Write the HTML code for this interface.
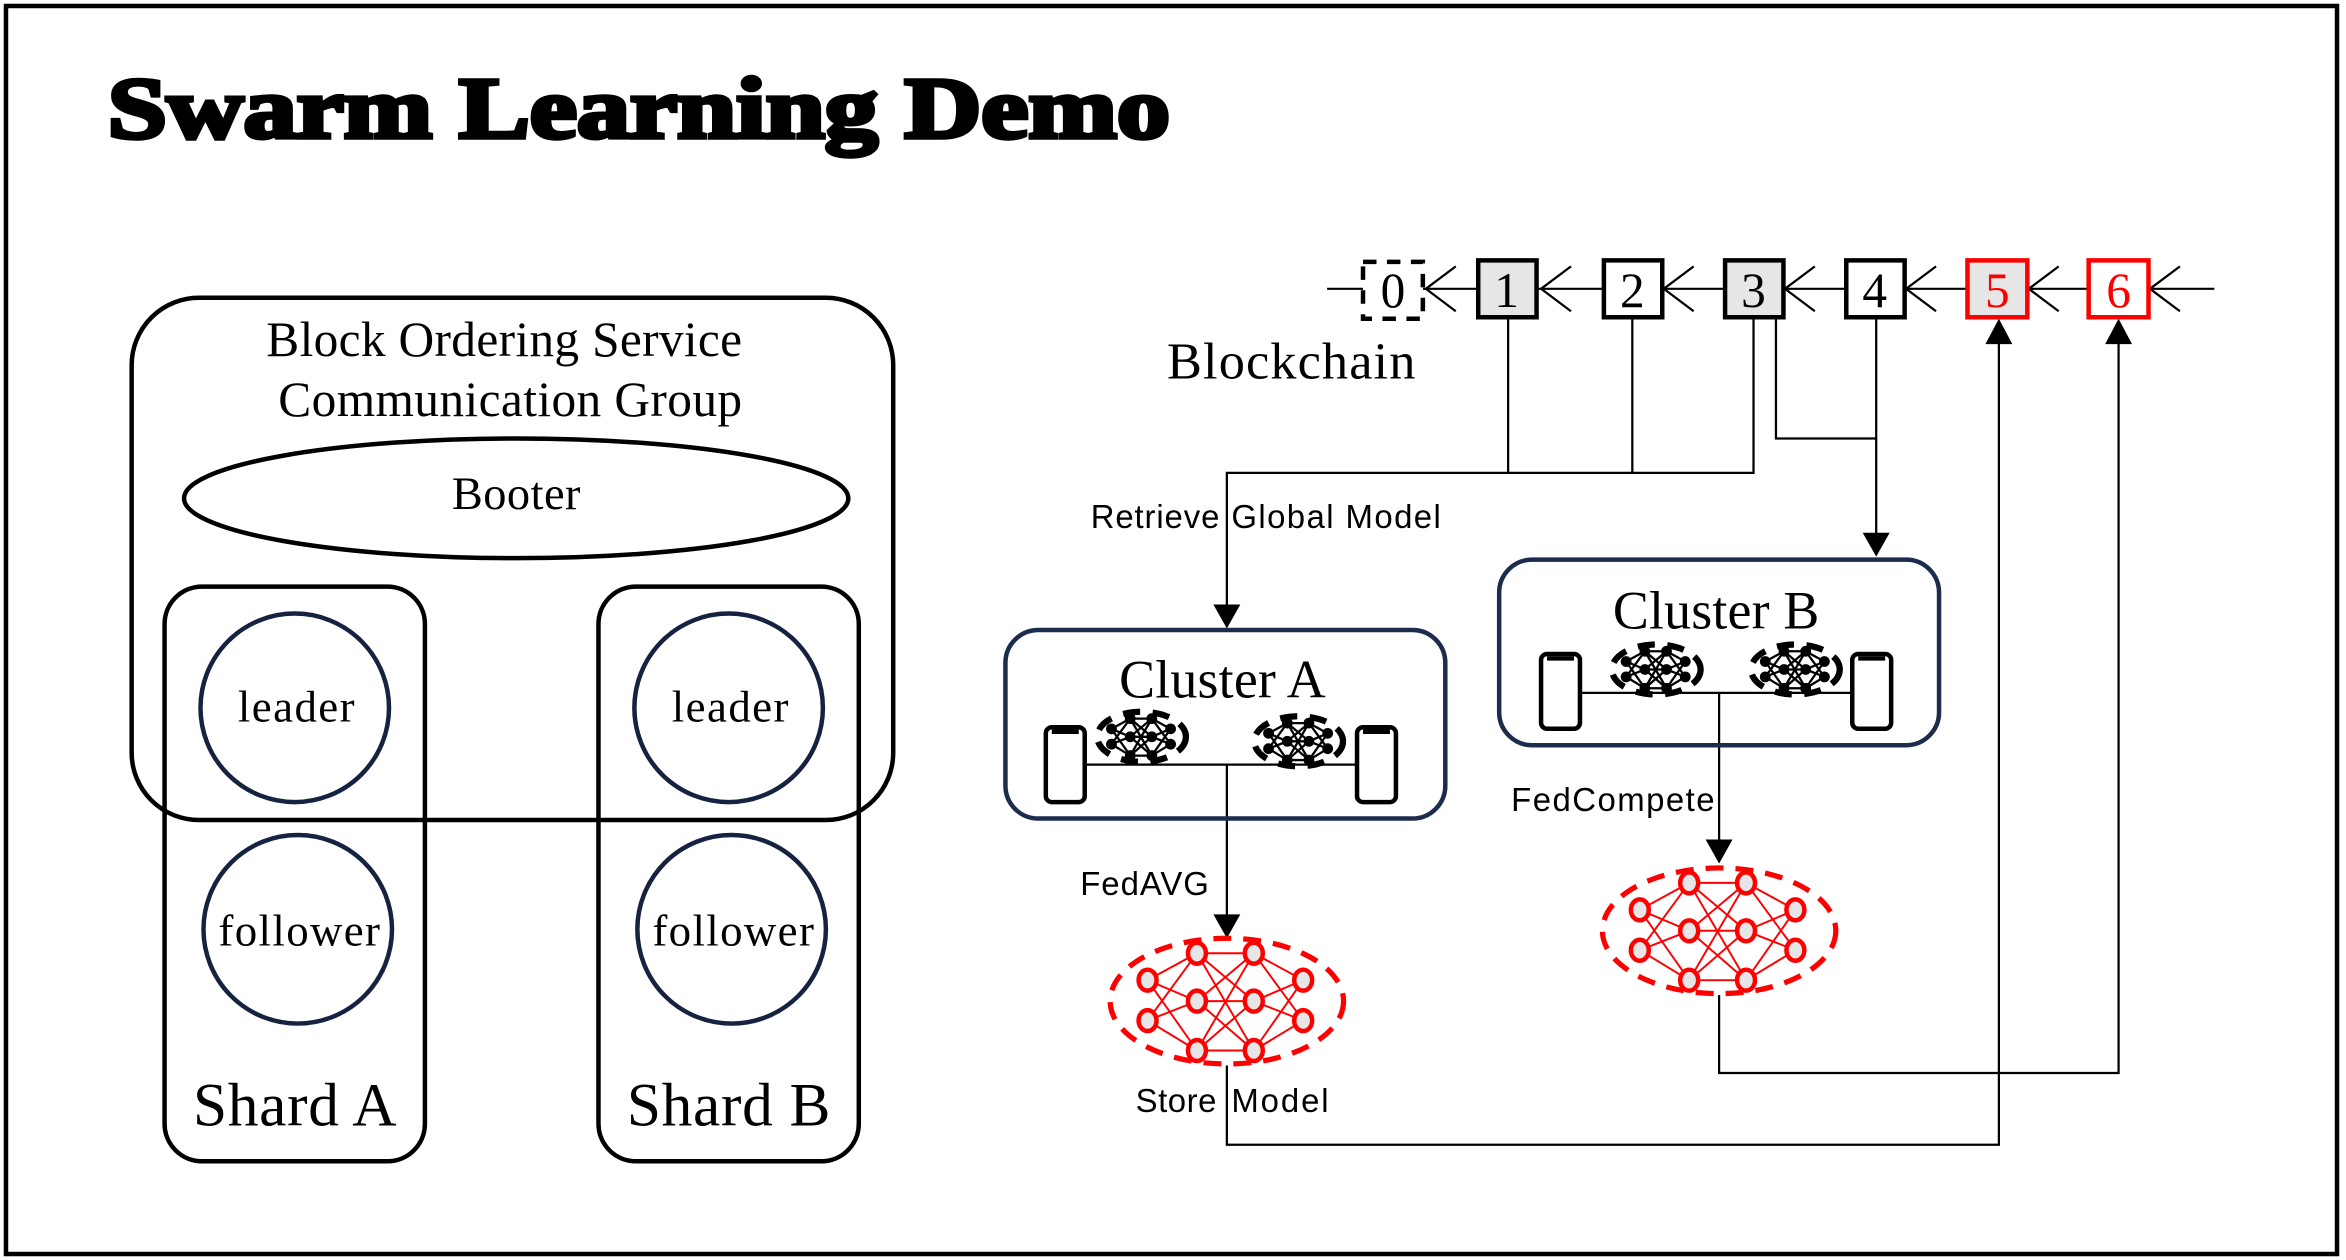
<!DOCTYPE html>
<html><head><meta charset="utf-8"><style>
html,body{margin:0;padding:0;background:#fff;}
svg{display:block;}
</style></head><body>
<svg width="2346" height="1260" viewBox="0 0 1568 842" preserveAspectRatio="none" xmlns="http://www.w3.org/2000/svg">
<defs>
<g id="net">
  <g stroke-width="1.3">
    <path d="M-53,-13L-20,-31M-53,-13L-20,1M-53,-13L-20,34M-53,14L-20,-31M-53,14L-20,1M-53,14L-20,34
    M-20,-31L18,-31M-20,-31L18,1M-20,-31L18,34M-20,1L18,-31M-20,1L18,1M-20,1L18,34M-20,34L18,-31M-20,34L18,1M-20,34L18,34
    M18,-31L51,-13M18,-31L51,14M18,1L51,-13M18,1L51,14M18,34L51,-13M18,34L51,14" fill="none"/>
  </g>
  <g stroke-width="3" fill="#e6e6e6">
    <ellipse cx="-53" cy="-13" rx="6" ry="7"/><ellipse cx="-53" cy="14" rx="6" ry="7"/>
    <ellipse cx="-20" cy="-31" rx="6" ry="7"/><ellipse cx="-20" cy="1" rx="6" ry="7"/><ellipse cx="-20" cy="34" rx="6" ry="7"/>
    <ellipse cx="18" cy="-31" rx="6" ry="7"/><ellipse cx="18" cy="1" rx="6" ry="7"/><ellipse cx="18" cy="34" rx="6" ry="7"/>
    <ellipse cx="51" cy="-13" rx="6" ry="7"/><ellipse cx="51" cy="14" rx="6" ry="7"/>
  </g>
  <ellipse cx="0" cy="1" rx="78" ry="42" fill="none" stroke-width="3.5" stroke-dasharray="12,8"/>
</g>
<g id="neticon">
  <path d="M-53,-13L-20,-31M-53,-13L-20,1M-53,-13L-20,34M-53,14L-20,-31M-53,14L-20,1M-53,14L-20,34
    M-20,-31L18,-31M-20,-31L18,1M-20,-31L18,34M-20,1L18,-31M-20,1L18,1M-20,1L18,34M-20,34L18,-31M-20,34L18,1M-20,34L18,34
    M18,-31L51,-13M18,-31L51,14M18,1L51,-13M18,1L51,14M18,34L51,-13M18,34L51,14" fill="none" stroke-width="4"/>
  <g stroke-width="5" fill="#000">
    <circle cx="-53" cy="-13" r="7"/><circle cx="-53" cy="14" r="7"/>
    <circle cx="-20" cy="-31" r="7"/><circle cx="-20" cy="1" r="7"/><circle cx="-20" cy="34" r="7"/>
    <circle cx="18" cy="-31" r="7"/><circle cx="18" cy="1" r="7"/><circle cx="18" cy="34" r="7"/>
    <circle cx="51" cy="-13" r="7"/><circle cx="51" cy="14" r="7"/>
  </g>
  <ellipse cx="0" cy="1" rx="78" ry="44" fill="none" stroke-width="11" stroke-dasharray="30,22"/>
</g>
<g id="phone">
  <rect x="0" y="0" width="26" height="50" rx="4" fill="#fff" stroke="#000" stroke-width="3"/>
  <line x1="4" y1="3" x2="22" y2="3" stroke="#000" stroke-width="3"/>
</g>
<g id="icon"><g transform="scale(0.38)" stroke="#000" fill="#000"><use href="#neticon"/></g></g>
</defs>

<rect x="4" y="4" width="1558" height="834" fill="#fff" stroke="#000" stroke-width="3"/>
<text x="72" y="92" font-family="Liberation Serif, serif" font-weight="bold" font-size="58" stroke="#000" stroke-width="3" textLength="710" lengthAdjust="spacingAndGlyphs">Swarm Learning Demo</text>

<!-- left part -->
<g fill="none" stroke="#000" stroke-width="3">
  <rect x="88" y="199" width="509" height="349" rx="45"/>
  <ellipse cx="345" cy="333" rx="222" ry="40"/>
  <rect x="110" y="392" width="174" height="384" rx="25"/>
  <rect x="400" y="392" width="174" height="384" rx="25"/>
</g>
<g fill="none" stroke="#152240" stroke-width="3">
  <circle cx="197" cy="473" r="63"/><circle cx="199" cy="621" r="63"/>
  <circle cx="487" cy="473" r="63"/><circle cx="489" cy="621" r="63"/>
</g>
<g font-family="Liberation Serif, serif" fill="#000" text-anchor="middle" lengthAdjust="spacingAndGlyphs">
  <text x="337" y="238" font-size="33" textLength="318">Block Ordering Service</text>
  <text x="341" y="278" font-size="33" textLength="310">Communication Group</text>
  <text x="345" y="340" font-size="31" textLength="86">Booter</text>
  <text x="198" y="482" font-size="30" textLength="78">leader</text>
  <text x="488" y="482" font-size="30" textLength="78">leader</text>
  <text x="200" y="632" font-size="30" textLength="108">follower</text>
  <text x="490" y="632" font-size="30" textLength="108">follower</text>
  <text x="197" y="752" font-size="41" textLength="136">Shard A</text>
  <text x="487" y="752" font-size="41" textLength="136">Shard B</text>
  <text x="863" y="253" font-size="35" textLength="166">Blockchain</text>
  <text x="817" y="466" font-size="36" textLength="138">Cluster A</text>
  <text x="1147" y="420" font-size="36" textLength="138">Cluster B</text>
</g>

<!-- chain -->
<g stroke="#000" stroke-width="1.5" fill="none">
  <line x1="887" y1="193" x2="911" y2="193"/>
  <line x1="951" y1="193" x2="988" y2="193"/>
  <line x1="1027" y1="193" x2="1072" y2="193"/>
  <line x1="1111" y1="193" x2="1153" y2="193"/>
  <line x1="1192" y1="193" x2="1234" y2="193"/>
  <line x1="1273" y1="193" x2="1315" y2="193"/>
  <line x1="1355" y1="193" x2="1396" y2="193"/>
  <line x1="1436" y1="193" x2="1480" y2="193"/>
  <path d="M973,178L953,193L973,208M1050,178L1030,193L1050,208M1132,178L1112,193L1132,208M1213,178L1193,193L1213,208M1294,178L1274,193L1294,208M1376,178L1356,193L1376,208M1457,178L1437,193L1457,208"/>
</g>
<rect x="911" y="175" width="40" height="38" fill="#fff" stroke="#000" stroke-width="3" stroke-dasharray="9,7"/>
<rect x="988" y="174" width="39" height="38" fill="#e6e6e6" stroke="#000" stroke-width="3"/>
<rect x="1072" y="174" width="39" height="38" fill="#fff" stroke="#000" stroke-width="3"/>
<rect x="1153" y="174" width="39" height="38" fill="#e6e6e6" stroke="#000" stroke-width="3"/>
<rect x="1234" y="174" width="39" height="38" fill="#fff" stroke="#000" stroke-width="3"/>
<rect x="1315" y="174" width="40" height="38" fill="#e6e6e6" stroke="#f00" stroke-width="3"/>
<rect x="1396" y="174" width="40" height="38" fill="#fff" stroke="#f00" stroke-width="3"/>
<g font-family="Liberation Serif, serif" font-size="33" text-anchor="middle">
  <text x="931" y="205">0</text><text x="1007" y="205">1</text><text x="1091" y="205">2</text>
  <text x="1172" y="205">3</text><text x="1253" y="205">4</text>
  <text x="1335" y="205" fill="#f00">5</text><text x="1416" y="205" fill="#f00">6</text>
</g>

<!-- connectors -->
<g stroke="#000" stroke-width="1.5" fill="none">
  <path d="M1008,212V316M1091,212V316M1172,212V316H820V405"/>
  <path d="M1187,212V293H1254M1254,212V357"/>
  <path d="M725,511H907M820,511V612"/>
  <path d="M1056,463H1238M1149,463V562"/>
  <path d="M820,712V765H1336V229"/>
  <path d="M1149,665V717H1416V229"/>
</g>
<g fill="#000">
  <path d="M811,404L829,404L820,420Z"/>
  <path d="M1245,356L1263,356L1254,372Z"/>
  <path d="M811,611L829,611L820,627Z"/>
  <path d="M1140,561L1158,561L1149,577Z"/>
  <path d="M1327,230L1345,230L1336,213Z"/>
  <path d="M1407,230L1425,230L1416,213Z"/>
</g>

<!-- clusters -->
<rect x="672" y="421" width="294" height="126" rx="22" fill="none" stroke="#1c2c4c" stroke-width="3"/>
<rect x="1002" y="374" width="294" height="124" rx="22" fill="none" stroke="#1c2c4c" stroke-width="3"/>
<use href="#phone" x="699" y="486"/><use href="#phone" x="907" y="486"/>
<use href="#phone" x="1030" y="437"/><use href="#phone" x="1238" y="437"/>
<use href="#icon" x="763" y="492"/><use href="#icon" x="868" y="495"/>
<use href="#icon" x="1107" y="447"/><use href="#icon" x="1200" y="447"/>

<!-- red nets -->
<g stroke="#f00" fill="none"><use href="#net" x="820" y="668"/></g>
<g stroke="#f00" fill="none"><use href="#net" x="1149" y="621"/></g>

<g font-family="Liberation Sans, sans-serif" font-size="22" fill="#000" lengthAdjust="spacingAndGlyphs">
  <text x="729" y="353" textLength="86">Retrieve</text><text x="823" y="353" textLength="140">Global Model</text>
  <text x="722" y="598" textLength="86">FedAVG</text>
  <text x="1010" y="542" textLength="136">FedCompete</text>
  <text x="759" y="743" textLength="54">Store</text><text x="823" y="743" textLength="65">Model</text>
</g>
</svg>
</body></html>
